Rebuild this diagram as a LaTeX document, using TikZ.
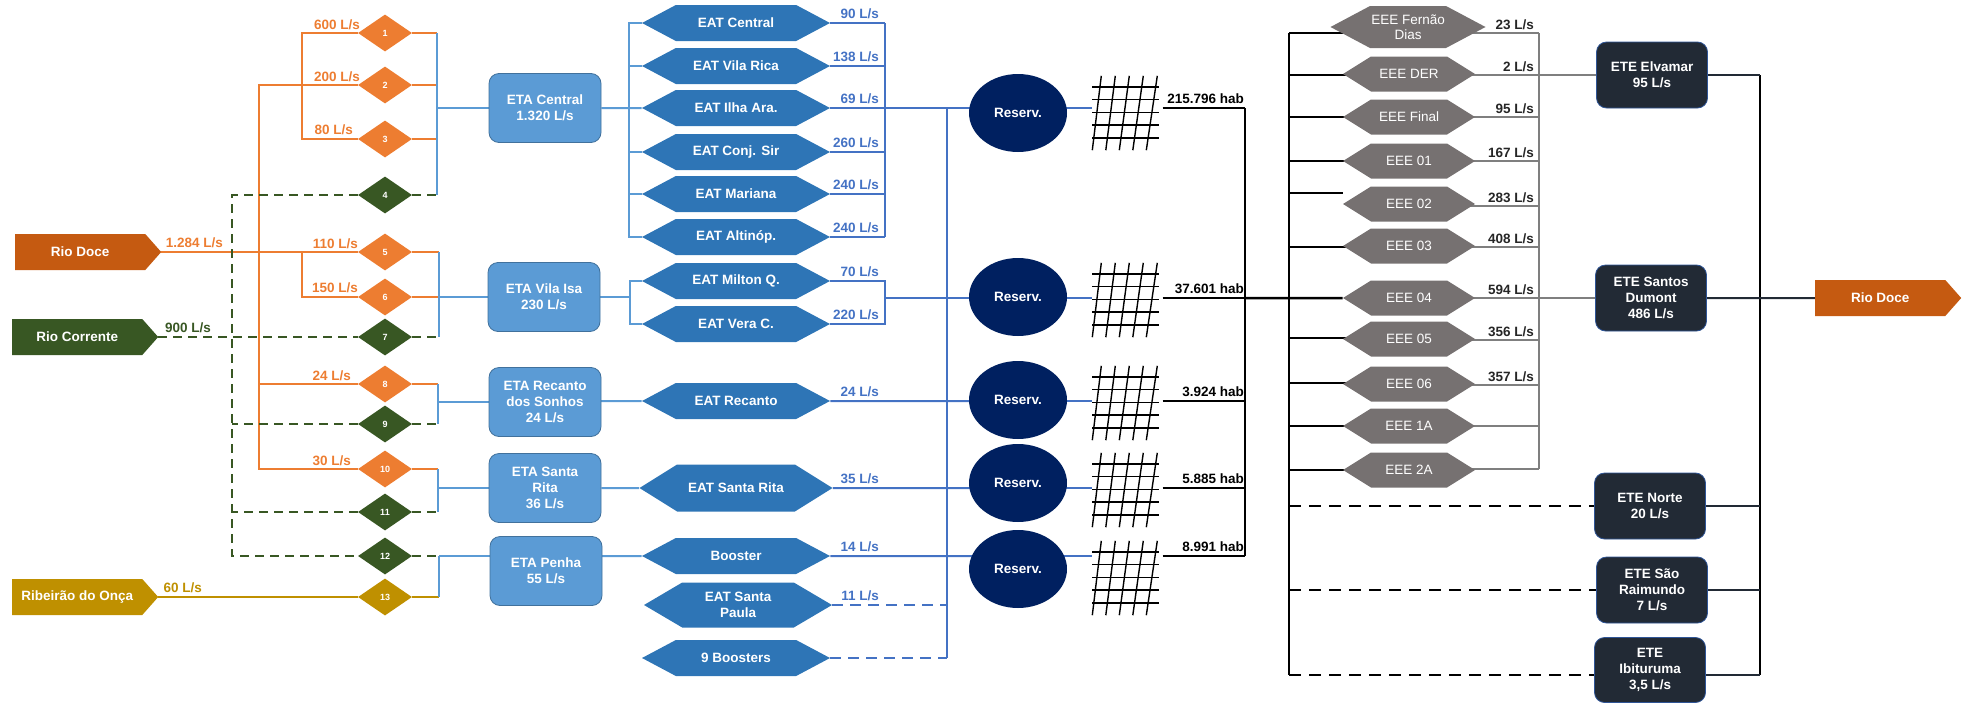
\documentclass[tikz,border=0pt]{standalone}
\usepackage{fontspec}
\setmainfont{Liberation Sans}
\usetikzlibrary{shapes.geometric, shapes.symbols, calc, positioning, backgrounds}

\definecolor{laranja}{HTML}{ED7D31}
\definecolor{telha}{HTML}{C55A11}
\definecolor{verde}{HTML}{385723}
\definecolor{mostarda}{HTML}{BF9000}
\definecolor{etaazul}{HTML}{5B9BD5}
\definecolor{etaborda}{HTML}{41719C}
\definecolor{eatazul}{HTML}{2E75B6}
\definecolor{azul}{HTML}{4472C4}
\definecolor{marinho}{HTML}{002060}
\definecolor{cinza}{HTML}{767171}
\definecolor{cinzal}{HTML}{7F7F7F}
\definecolor{etefundo}{HTML}{222A35}
\definecolor{eteborda}{HTML}{2F5597}
\definecolor{escuro}{HTML}{262626}

\begin{document}
\begin{tikzpicture}[x=1pt, y=-1pt,
    font=\fontsize{13.5}{16}\selectfont\bfseries,
    rio/.style={shape=signal, signal to=east, signal pointer angle=97,
      minimum width=146pt, minimum height=36pt, inner sep=0pt, text=white,
      anchor=west},
    valvula/.style={diamond, minimum width=54pt, minimum height=37pt,
      inner sep=0pt, text=white, font=\fontsize{9}{10}\selectfont\bfseries},
    eta/.style={rectangle, rounded corners=10pt, fill=etaazul, draw=etaborda,
      line width=0.8pt, minimum width=112pt, minimum height=69pt,
      inner sep=0pt, align=center, text=white},
    eat/.style={shape=signal, signal to=east and west, signal pointer angle=56,
      fill=eatazul, minimum width=188pt, minimum height=36pt, inner sep=0pt,
      align=center, text=white},
    reserv/.style={ellipse, fill=marinho, minimum width=98pt,
      minimum height=78pt, inner sep=0pt, text=white},
    cidade/.style={rectangle, minimum width=67pt, minimum height=74pt, inner sep=0pt},
    eee/.style={shape=signal, signal to=east and west, signal pointer angle=64,
      fill=cinza, minimum width=132pt, minimum height=35pt, inner sep=0pt,
      align=center, text=white, font=\fontsize{13.5}{15}\selectfont},
    ete/.style={rectangle, rounded corners=10pt, fill=etefundo, draw=eteborda,
      line width=0.8pt, minimum width=111pt, minimum height=66pt,
      inner sep=0pt, align=center, text=white},
    vazao/.style={anchor=base east, inner sep=0pt},
    laranjal/.style={draw=laranja, line width=2pt},
    verdel/.style={draw=verde, line width=2pt, dash pattern=on 9pt off 6pt},
    mostardal/.style={draw=mostarda, line width=2pt},
    azulcl/.style={draw=etaazul, line width=2pt},
    azull/.style={draw=azul, line width=2pt},
    azulld/.style={draw=azul, line width=2pt, dash pattern=on 11pt off 7pt},
    grade/.style={draw=black, line width=1.4pt},
    pretol/.style={draw=black, line width=2.5pt},
    pretod/.style={draw=black, line width=2pt, dash pattern=on 12pt off 8pt},
    cinzalin/.style={draw=cinzal, line width=2pt},
    etel/.style={draw=etefundo, line width=2pt}
  ]
  \useasboundingbox (0,0) rectangle (1972,704);

  % mananciais
  \node[rio, fill=telha] (rdoce) at (15,252) {Rio Doce};
  \node[rio, fill=verde] (rcorr) at (12,337) {Rio Corrente};
  \node[rio, fill=mostarda] (ronca) at (12,597) {Ribeirão do Onça};

  % captacoes
  \foreach \n/\y/\c in {1/33/laranja, 2/85/laranja, 3/139/laranja, 4/195/verde,
      5/252/laranja, 6/297/laranja, 7/337/verde, 8/384/laranja, 9/424/verde,
      10/469/laranja, 11/512/verde, 12/556/verde, 13/597/mostarda}
    \node[valvula, fill=\c] (d\n) at (385,\y) {\n};

  \node[vazao, text=laranja] at (223,247) {1.284 L/s};
  \node[vazao, text=verde] at (211,332) {900 L/s};
  \node[vazao, text=mostarda] at (202,592) {60 L/s};
  \foreach \y/\x/\t in {29/360/600, 81/360/200, 134/353/80, 248/358/110,
      292/358/150, 380/351/24, 465/351/30}
    \node[vazao, text=laranja] at (\x,\y) {\t\ L/s};

  % ETAs
  \node[eta] (eta1) at (545,108) {ETA Central\\1.320 L/s};
  \node[eta] (eta2) at (544,297) {ETA Vila Isa\\230 L/s};
  \node[eta] (eta3) at (545,402) {ETA Recanto\\dos Sonhos\\24 L/s};
  \node[eta] (eta4) at (545,488) {ETA Santa\\Rita\\36 L/s};
  \node[eta] (eta5) at (546,571) {ETA Penha\\55 L/s};

  % EATs
  \foreach \n/\y/\t in {1/23/EAT Central, 2/66/EAT Vila Rica, 3/108/EAT Ilha Ara.,
      4/152/EAT Conj. Sir, 5/194/EAT Mariana, 6/237/EAT Altinóp.,
      7/281/EAT Milton Q., 8/324/EAT Vera C., 9/401/EAT Recanto,
      11/556/Booster, 13/658/9 Boosters}
    \node[eat] (eat\n) at (736,\y) {\t};
  \node[eat, minimum width=193pt, minimum height=47pt, signal pointer angle=64]
    (eat10) at (736,488) {EAT Santa Rita};
  \node[eat, minimum height=45pt, signal pointer angle=61]
    (eat12) at (738,605) {EAT Santa\\Paula};
  \foreach \y/\t in {23/90, 66/138, 108/69, 152/260, 194/240, 237/240, 281/70,
      324/220, 401/24, 488/35, 556/14, 605/11}
    \node[vazao, text=azul] at (879,\y-5) {\t\ L/s};

  % reservatorios e cidades
  \foreach \i/\ye/\yg/\yl/\pop in {1/113/113/108/215.796, 2/297/300/298/37.601,
      3/400/403/401/3.924, 4/483/490/488/5.885, 5/569/578/556/8.991} {
    \node[reserv] (res\i) at (1018,\ye) {Reserv.};
    \node[cidade] (cid\i) at (1126,\yg) {};
    \coordinate (pop\i) at (1245,\yl);
    \foreach \k in {0,...,4} {
      \draw[grade] ($(cid\i.north west)+(0,11+12.75*\k)$) -- ++(67,0);
      \draw[grade] ($(cid\i.north west)+(9+14*\k,0)$) -- ($(cid\i.south west)+(13.5*\k,0)$);
    }
    \node[vazao] at ($(pop\i)+(-1,-5)$) {\pop\ hab};
  }

  % EEEs
  \node[eee, minimum width=155pt, minimum height=42pt, signal pointer angle=56]
    (efd) at (1408,27) {EEE Fernão\\Dias};
  \foreach \n/\y/\t in {der/74/EEE DER, fin/117/EEE Final, 01/161/EEE 01,
      02/204/EEE 02, 03/246/EEE 03, 04/298/EEE 04, 05/339/EEE 05,
      06/384/EEE 06, 1A/426/EEE 1A, 2A/470/EEE 2A}
    \node[eee] (e\n) at (1409,\y) {\t};
  \foreach \y/\t in {33/23, 75/2, 117/95, 161/167, 206/283, 247/408, 298/594,
      340/356, 385/357}
    \node[vazao, text=escuro] at (1534,\y-4) {\t\ L/s};

  % ETEs
  \node[ete] (ete1) at (1652,75) {ETE Elvamar\\95 L/s};
  \node[ete] (ete2) at (1651,298) {ETE Santos\\Dumont\\486 L/s};
  \node[ete] (ete3) at (1650,506) {ETE Norte\\20 L/s};
  \node[ete] (ete4) at (1652,590) {ETE São\\Raimundo\\7 L/s};
  \node[ete, minimum height=65pt] (ete5) at (1650,670) {ETE\\Ibituruma\\3,5 L/s};
  \node[rio, fill=telha] (rdfoz) at (1815,298) {Rio Doce};

  \begin{scope}[on background layer]
    % agua bruta
    \coordinate (tA) at (302,33);
    \coordinate (tB) at (302,252);
    \coordinate (mA) at (259,469);
    \coordinate (gA) at (232,556);
    \draw[laranjal] (d1.west) -- (tA) |- (d3.west);
    \draw[laranjal] (d2.west) -| (mA) -- (d10.west);
    \draw[laranjal] (d8.west) -- (d8.west -| mA);
    \draw[laranjal] (rdoce.east) -- (d5.west);
    \draw[laranjal] (tB) |- (d6.west);
    \draw[verdel] (d4.west) -| (gA) -- (d12.west);
    \draw[verdel] (rcorr.east) -- (d7.west);
    \draw[verdel] (d9.west) -- (d9.west -| gA);
    \draw[verdel] (d11.west) -- (d11.west -| gA);
    \draw[mostardal] (ronca.east) -- (d13.west);

    % chegada nas ETAs
    \coordinate (b1) at (437,108);
    \coordinate (b2) at (439,297);
    \coordinate (b3) at (438,402);
    \coordinate (b4) at (438,488);
    \coordinate (b5) at (439,556);
    \foreach \n/\b in {1/b1, 2/b1, 3/b1, 5/b2, 6/b2, 8/b3, 10/b4}
      \draw[laranjal] (d\n.east) -- (d\n.east -| \b);
    \foreach \n/\b in {4/b1, 7/b2, 9/b3, 11/b4, 12/b5}
      \draw[verdel] (d\n.east) -- (d\n.east -| \b);
    \draw[mostardal] (d13.east) -- (d13.east -| b5);
    \foreach \a/\z/\b in {1/4/b1, 5/7/b2, 8/9/b3, 10/11/b4, 12/13/b5}
      \draw[azulcl] (d\a.east -| \b) -- (d\z.east -| \b);
    \foreach \e/\b in {1/b1, 2/b2, 3/b3, 4/b4, 5/b5}
      \draw[azulcl] (\b) -- (eta\e.center |- \b);

    % distribuicao
    \coordinate (l1) at (629,108);
    \coordinate (l2) at (630,297);
    \coordinate (r1) at (885,108);
    \coordinate (r2) at (885,298);
    \coordinate (rb) at (947,108);
    \draw[azulcl] (eta1) -- (eat3);
    \draw[azulcl] (eat1.west) -- (eat1.west -| l1) -- (eat6.west -| l1) -- (eat6.west);
    \foreach \n in {2,4,5}
      \draw[azulcl] (eat\n.west) -- (eat\n.west -| l1);
    \foreach \n in {1,...,6}
      \draw[azull] (eat\n.east) -- (eat\n.east -| r1);
    \draw[azull] (eat1.east -| r1) -- (eat6.east -| r1);
    \draw[azull] (r1) -- (res1.center |- r1);
    \draw[azulcl] (eta2) -- (l2);
    \draw[azulcl] (eat7.west) -- (eat7.west -| l2) -- (eat8.west -| l2) -- (eat8.west);
    \draw[azull] (eat7.east) -- (eat7.east -| r2) -- (eat8.east -| r2) -- (eat8.east);
    \draw[azull] (r2) -- (res2.center |- r2);
    \draw[azulcl] (eta3.center |- eat9) -- (eat9);
    \draw[azull] (eat9) -- (res3.center |- eat9);
    \draw[azulcl] (eta4) -- (eat10);
    \draw[azull] (eat10) -- (res4.center |- eat10);
    \draw[azulcl] (eta5.center |- eat11) -- (eat11);
    \draw[azull] (eat11) -- (res5.center |- eat11);
    \draw[azulld] (eat12.east) -- (eat12.east -| rb);
    \draw[azulld] (eat13.east) -- (eat13.east -| rb);
    \draw[azull] (rb) -- (rb |- eat13.east);

    % populacao atendida
    \foreach \i in {1,...,5} {
      \draw[azull] (res\i.center |- pop\i) -- (cid\i.west |- pop\i);
      \draw[pretol] (cid\i.east |- pop\i) ++(3,0) -- (pop\i);
    }
    \draw[pretol] (pop1) -- (pop5);
    \draw[pretol] (pop2) -- (e04);

    % esgoto
    \coordinate (eb1) at (1289,33);
    \coordinate (eb2) at (1289,675);
    \coordinate (gb1) at (1539,33);
    \coordinate (gb2) at (1539,469);
    \draw[pretol] (eb1) -- (eb2);
    \foreach \n/\y in {fd/33, der/75, fin/117, 01/161, 03/247, 05/338,
        06/383, 1A/426, 2A/470}
      \draw[pretol] (eb1 |- 0,\y) -- (e\n.center |- 0,\y);
    \draw[pretol] (eb1 |- 0,193) -- (e02.west |- 0,193);
    \foreach \n/\y in {fd/33, der/75, fin/117, 01/161, 02/206, 03/247, 04/298,
        05/340, 06/385, 1A/426, 2A/469}
      \draw[cinzalin] (e\n.center |- 0,\y) -- (gb1 |- 0,\y);
    \draw[cinzalin] (gb1) -- (gb2);
    \draw[cinzalin] (gb1 |- ete1) -- (ete1);
    \draw[cinzalin] (gb1 |- ete2) -- (ete2);

    % tratamento e lancamento
    \coordinate (tb1) at (1760,75);
    \coordinate (tb2) at (1760,675);
    \draw[pretol] (tb1) -- (tb2);
    \draw[etel] (ete1) -- (tb1);
    \draw[etel] (ete2) -- (rdfoz);
    \draw[etel] (ete3) -- (ete3 -| tb1);
    \draw[etel] (ete4) -- (ete4 -| tb1);
    \draw[etel] (ete5.center |- tb2) -- (tb2);
    \draw[pretod] (ete3 -| eb1) -- (ete3);
    \draw[pretod] (ete4 -| eb1) -- (ete4);
    \draw[pretod] (eb2) -- (ete5.center |- eb2);
  \end{scope}
\end{tikzpicture}
\end{document}
